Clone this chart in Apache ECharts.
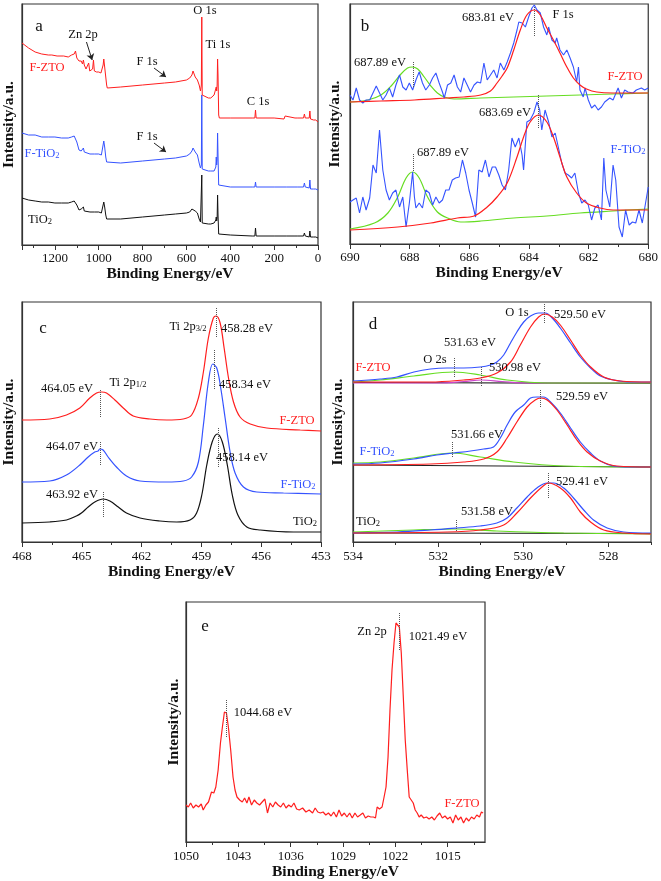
<!DOCTYPE html>
<html><head><meta charset="utf-8">
<script src="https://cdn.jsdelivr.net/npm/echarts@6/dist/echarts.min.js"></script>
<style>html,body{margin:0;padding:0;background:#fff}#c{width:661px;height:881px}</style>
</head><body><div id="c"></div>
<script>
// ---------- DATA ([binding energy eV, intensity a.u.]) ----------
// (a) survey
const surveyFZTO = [[1350,202],[1320,197],[1290,193],[1260,191],[1230,190],[1214,190],[1190,189],[1160,189],[1139,188],[1124,190],[1112,191],[1106,194],[1100,187],[1090,184],[1080,184],[1074,181],[1070,185],[1066,180],[1058,176],[1052,179],[1046,182],[1041,174],[1034,175],[1028,176],[1024,185],[1020,174],[1010,173],[1000,173],[990,172],[984,174],[980,180],[977,186],[973,178],[968,168],[964,160],[961,157],[900,158],[800,160],[700,162],[650,163],[600,165],[585,167],[575,170],[570,174],[566,172],[560,168],[550,165],[542,160],[536,154],[532,160],[530,228],[528,150],[520,148],[500,147],[489,147],[474,150],[470,149],[466,152],[464,158],[462,154],[460,160],[458,186],[456,170],[453,130],[450,127],[400,127],[300,127],[288,127],[285,135],[282,127],[200,127],[155,126],[150,129],[145,127],[105,127],[100,129],[95,127],[66,127],[62,131],[58,127],[40,127],[37,134],[34,126],[20,125],[10,125],[0,123]];
const surveyFTiO2 = [[1350,112],[1320,110],[1290,110],[1260,108],[1230,108],[1200,108],[1170,107],[1139,107],[1124,108],[1112,109],[1106,110],[1100,103],[1090,95],[1080,94],[1074,95],[1070,97],[1066,93],[1058,91],[1040,91],[1020,91],[1000,91],[988,90],[982,92],[977,104],[973,98],[968,88],[964,83],[961,81],[900,82],[800,84],[700,86],[650,87],[600,89],[585,91],[575,94],[570,97],[566,95],[560,93],[550,90],[542,82],[536,77],[532,80],[530,150],[528,76],[520,75],[500,74],[489,74],[474,74],[470,73],[466,78],[464,88],[462,80],[460,85],[458,112],[456,90],[453,60],[450,58],[400,58],[300,58],[288,58],[285,63],[282,58],[200,58],[155,58],[150,60],[145,58],[105,58],[100,59],[95,58],[66,58],[62,62],[58,58],[40,57],[37,65],[34,56],[20,56],[10,56],[0,55]];
const surveyTiO2 = [[1350,47],[1320,45],[1290,44],[1260,43],[1230,43],[1200,42],[1170,42],[1139,42],[1124,43],[1112,44],[1106,46],[1100,40],[1090,35],[1080,36],[1074,37],[1070,38],[1066,34],[1058,32],[1040,33],[1020,33],[1000,33],[988,32],[982,34],[977,43],[973,38],[968,30],[964,26],[961,25],[900,26],[800,28],[700,30],[650,31],[600,32],[585,33],[575,36],[570,38],[566,37],[560,34],[550,32],[542,26],[536,23],[532,25],[530,70],[528,22],[520,22],[500,21],[489,21],[474,22],[470,21],[466,25],[464,28],[462,24],[460,27],[458,50],[456,30],[453,11],[450,10],[400,10],[300,9],[288,9],[285,17],[282,9],[200,9],[155,9],[150,10],[145,9],[105,9],[100,10],[95,9],[66,9],[62,12],[58,9],[40,8],[37,14],[34,8],[20,8],[10,8],[0,7]];
const aTicks = [0, 1350, 200];

// (b) F 1s
const f1sFZTO = [[690.00,149],[689.90,144],[689.79,156],[689.68,144],[689.57,141],[689.46,144],[689.34,144],[689.23,151],[689.12,158],[689.01,151],[688.90,144],[688.79,149],[688.68,156],[688.57,147],[688.46,159],[688.34,169],[688.23,157],[688.12,154],[688.01,161],[687.90,154],[687.79,164],[687.68,172],[687.57,161],[687.46,154],[687.34,159],[687.23,166],[687.12,171],[687.01,161],[686.90,152],[686.84,146],[686.73,159],[686.62,161],[686.51,169],[686.40,157],[686.29,152],[686.18,166],[686.07,159],[685.96,152],[685.84,159],[685.73,162],[685.62,161],[685.51,181],[685.40,164],[685.29,169],[685.18,174],[685.07,166],[684.96,181],[684.84,174],[684.73,182],[684.62,191],[684.51,201],[684.40,214],[684.34,222],[684.23,221],[684.12,217],[684.01,227],[683.90,236],[683.82,239],[683.73,234],[683.62,231],[683.51,217],[683.40,209],[683.34,217],[683.23,204],[683.12,201],[683.07,206],[682.96,194],[682.84,189],[682.73,194],[682.62,186],[682.51,177],[682.40,162],[682.34,177],[682.29,154],[682.18,147],[682.12,156],[682.01,144],[681.90,136],[681.79,139],[681.68,134],[681.57,137],[681.46,142],[681.29,146],[681.18,144],[681.01,156],[680.90,146],[680.79,154],[680.68,152],[680.51,151],[680.40,154],[680.23,156],[680.12,154],[680.00,156]];
const f1sFZTOfitMain = [[690,142],[688.96,143],[687.84,144],[686.73,146],[686.18,147],[685.62,149],[685.29,153],[685.07,161],[684.90,168],[684.73,176],[684.51,194],[684.29,214],[684.07,229],[683.82,234],[683.62,229],[683.40,216],[683.18,204],[682.96,191],[682.73,177],[682.51,166],[682.29,159],[682.07,155],[681.73,152],[681.18,151],[680,151]];
const f1sFZTOfitHigh = [[690,142],[689.4,144],[688.96,149],[688.62,158],[688.29,170],[688.07,176],[687.92,177],[687.73,175],[687.51,167],[687.29,158],[687.07,151],[686.84,147],[686.51,145],[685.62,146],[684.51,147],[683.40,148],[682.29,149],[681.18,150],[680,151]];
const f1sFTiO2 = [[690.00,42],[689.90,44],[689.79,46],[689.68,31],[689.57,47],[689.46,34],[689.34,46],[689.23,79],[689.12,71],[689.01,114],[688.90,74],[688.79,54],[688.68,44],[688.57,51],[688.46,54],[688.34,37],[688.23,47],[688.12,17],[688.01,41],[687.90,72],[687.84,47],[687.79,36],[687.68,41],[687.57,36],[687.46,54],[687.34,51],[687.23,39],[687.12,47],[687.01,41],[686.90,44],[686.79,54],[686.68,54],[686.57,64],[686.46,66],[686.34,67],[686.23,84],[686.12,71],[686.01,54],[685.90,41],[685.79,27],[685.68,74],[685.57,72],[685.46,84],[685.34,67],[685.23,77],[685.12,77],[685.01,69],[684.90,59],[684.79,54],[684.68,74],[684.57,106],[684.46,97],[684.34,106],[684.23,89],[684.18,74],[684.07,122],[683.96,124],[683.84,131],[683.73,142],[683.64,134],[683.57,114],[683.46,134],[683.34,122],[683.23,107],[683.12,111],[683.01,96],[682.90,81],[682.79,71],[682.68,69],[682.57,66],[682.46,71],[682.34,51],[682.23,41],[682.12,44],[682.01,39],[681.90,24],[681.79,36],[681.68,39],[681.57,24],[681.49,86],[681.42,54],[681.29,37],[681.18,79],[681.09,64],[680.98,17],[680.87,7],[680.76,34],[680.64,19],[680.53,22],[680.42,21],[680.31,34],[680.20,21],[680.09,41],[680.00,57]];
const f1sFTiO2fitMain = [[690,14],[688.40,17],[687.29,21],[686.40,26],[685.84,28],[685.40,37],[685.07,47],[684.73,61],[684.40,87],[684.18,107],[683.96,122],[683.68,129],[683.40,122],[683.18,107],[682.96,87],[682.73,67],[682.40,51],[682.07,41],[681.62,36],[681.18,34],[680,34]];
const f1sFTiO2fitHigh = [[690,15],[689.18,21],[688.73,31],[688.40,47],[688.12,66],[687.90,72],[687.68,66],[687.40,47],[687.07,32],[686.73,26],[686.29,22],[685.62,23],[684.51,26],[683.40,28],[682.29,31],[681.18,33],[680,35]];
const bPeaks = [683.81, 687.89, 683.69, 687.89];

// (c) Ti 2p
const ti2pFZTO = [[468,122],[466.61,123],[465.77,127],[465.10,134],[464.60,144],[464.26,149],[464.01,150],[463.76,149],[463.34,142],[462.92,134],[462.42,126],[461.58,123],[460.74,122],[459.91,123],[459.49,127],[459.15,144],[458.90,170],[458.65,204],[458.40,224],[458.26,226],[458.06,219],[457.86,194],[457.64,164],[457.39,140],[457.06,125],[456.55,118],[455.72,114],[454.04,112],[453,111]];
const ti2pFTiO2 = [[468,60],[466.61,61],[465.77,67],[465.10,77],[464.68,85],[464.35,90],[464.18,91],[464.10,93],[463.93,92],[463.68,85],[463.26,75],[462.76,66],[462.08,61],[460.74,60],[459.91,61],[459.49,65],[459.15,80],[458.90,117],[458.65,160],[458.43,178],[458.23,174],[458.03,154],[457.81,124],[457.56,90],[457.31,69],[456.89,55],[456.22,50],[454.88,49],[453,48]];
const ti2pTiO2 = [[468,19],[466.61,20],[465.77,22],[465.27,26],[465.02,29],[464.68,35],[464.35,40],[463.93,43],[463.59,41],[463.17,35],[462.76,29],[462.08,24],[461.08,21],[460.24,20],[459.57,22],[459.24,29],[458.98,47],[458.73,77],[458.46,100],[458.20,108],[457.95,100],[457.70,77],[457.45,47],[457.17,27],[456.72,15],[456.05,12],[454.38,10],[453,10]];
const cPeaks = [458.28, 458.34, 458.14, 464.05, 464.07, 463.92];

// (d) O 1s
const o1sFZTO = [[534,161],[533.36,163],[532.97,165],[532.57,170],[532.18,173],[531.79,174],[531.40,174],[531.01,175],[530.77,177],[530.62,180],[530.46,187],[530.30,199],[530.15,210],[529.99,220],[529.83,226],[529.64,229],[529.48,229],[529.32,224],[529.13,214],[528.89,199],[528.66,185],[528.42,174],[528.19,166],[527.88,162],[527.48,160],[527,160]];
const o1sFZTOfitMain = [[534,160],[532.18,160],[531.40,162],[531.01,164],[530.62,169],[530.30,180],[530.07,197],[529.83,215],[529.64,225],[529.50,228],[529.32,225],[529.13,217],[528.89,202],[528.66,187],[528.42,175],[528.11,165],[527.72,161],[527,160]];
const o1sFZTOfitO2s = [[534,160],[533.36,162],[532.57,166],[531.63,170],[531.01,167],[530.38,162],[529.44,159],[527,159]];
const o1sFZTOfitMid = [[534,159],[532.0,159],[531.4,160.5],[530.98,162],[530.5,160.5],[529.9,159],[527,159]];
const o1sFZTObase = [[534,159.5],[527,158.7]];
const o1sFTiO2 = [[534,78],[533.36,79],[532.57,83],[532.03,87],[531.63,89],[531.24,91],[530.93,93],[530.70,95],[530.54,104],[530.38,117],[530.19,130],[529.99,137],[529.83,144],[529.68,145],[529.52,145],[529.36,140],[529.13,129],[528.89,114],[528.66,100],[528.42,89],[528.19,81],[527.88,76],[527.48,75],[527,75]];
const o1sFTiO2fitMain = [[534,77],[532.18,78],[531.40,80],[530.93,83],[530.62,90],[530.38,104],[530.15,120],[529.91,135],[529.72,142],[529.59,144],[529.44,142],[529.21,132],[528.97,117],[528.74,102],[528.50,90],[528.19,81],[527.80,76],[527,75]];
const o1sFTiO2fitO2s = [[534,79],[533.36,80],[532.57,84],[531.66,89],[531.01,85],[530.23,80],[529.05,76],[527,75]];
const o1sFTiO2base = [[534,77],[527,75]];
const o1sTiO2 = [[534,9],[532.97,10],[532.18,12],[531.56,14],[531.01,16],[530.62,19],[530.38,24],[530.15,34],[529.91,45],[529.68,54],[529.44,59],[529.29,59],[529.05,54],[528.82,44],[528.58,32],[528.35,22],[528.03,14],[527.64,10],[527,9]];
const o1sTiO2fitMain = [[534,9],[531.79,10],[531.01,12],[530.46,17],[530.15,29],[529.83,44],[529.56,55],[529.41,59],[529.13,54],[528.89,44],[528.66,30],[528.42,20],[528.11,12],[527.64,9],[527,8]];
const o1sTiO2fitO2s = [[534,10],[532.57,12],[531.58,13],[530.62,11],[529.05,9],[527,8]];
const o1sTiO2base = [[534,9],[527,8.5]];
const dPeaks = [529.50, 531.63, 530.98, 529.59, 531.66, 529.41, 531.58];
const dTickLabels = [534, 532, 530, 528];
const dMinorTicks = [533, 531, 529, 527];

// (e) Zn 2p
const zn2pFZTO = [[1050.00,37],[1049.69,35],[1049.38,39],[1049.03,34],[1048.67,37],[1048.32,35],[1047.96,38],[1047.70,32],[1047.34,37],[1046.99,40],[1046.59,50],[1046.28,49],[1046.01,55],[1045.70,72],[1045.39,99],[1045.13,115],[1044.86,130],[1044.68,132],[1044.59,129],[1044.33,115],[1044.02,92],[1043.71,65],[1043.44,52],[1043.18,45],[1042.82,42],[1042.47,40],[1042.16,44],[1041.85,39],[1041.58,45],[1041.23,37],[1040.87,42],[1040.52,39],[1040.16,37],[1039.81,40],[1039.45,43],[1039.10,29],[1038.75,39],[1038.39,35],[1038.04,40],[1037.68,37],[1037.33,35],[1036.97,39],[1036.62,34],[1036.26,37],[1035.91,35],[1035.56,39],[1035.20,33],[1034.85,32],[1034.40,34],[1033.96,30],[1033.52,32],[1033.07,29],[1032.72,34],[1032.37,30],[1032.01,29],[1031.66,30],[1031.30,27],[1030.95,29],[1030.59,26],[1030.24,30],[1029.88,25],[1029.53,32],[1029.18,26],[1028.82,29],[1028.47,25],[1028.11,29],[1027.76,24],[1027.40,29],[1027.05,25],[1026.69,27],[1026.34,29],[1025.99,24],[1025.63,26],[1025.28,25],[1024.92,25],[1024.65,24],[1024.43,35],[1024.12,33],[1023.77,35],[1023.50,45],[1023.24,55],[1022.97,85],[1022.71,132],[1022.44,172],[1022.17,199],[1021.91,219],[1021.69,221],[1021.46,215],[1021.20,189],[1020.93,145],[1020.67,102],[1020.40,72],[1020.14,45],[1019.87,42],[1019.60,39],[1019.34,32],[1019.07,29],[1018.81,25],[1018.54,27],[1018.19,24],[1017.83,25],[1017.48,23],[1017.12,25],[1016.77,22],[1016.42,26],[1016.06,29],[1015.71,24],[1015.35,26],[1015.00,23],[1014.64,25],[1014.29,19],[1013.93,27],[1013.58,22],[1013.22,25],[1012.87,19],[1012.51,24],[1012.16,21],[1011.81,25],[1011.45,23],[1011.10,27],[1010.74,25],[1010.48,30],[1010.26,29]];
const ePeaks = [1021.49, 1044.68];
const eTickLabels = [1050, 1043, 1036, 1029, 1022, 1015];
const eMinorTicks = [1046.5, 1039.5, 1032.5, 1025.5, 1018.5, 1011.5];

// ---------- STYLE ----------
const FONT = 'Liberation Serif';
const RED = '#ff1e1e', BLUE = '#3553ff', GREEN = '#66dd22', BLACK = '#111', MAG = '#cc44cc';
const AX = '#333';
const plain = v => String(v);

const grids = [
  {left:20, top:4, width:298, height:241},
  {left:350, top:4, width:300, height:240},
  {left:22, top:302, width:299, height:240},
  {left:353, top:302, width:298, height:240},
  {left:186, top:602, width:299, height:240}
].map(g => Object.assign({show:true, borderColor:AX, borderWidth:1.2, backgroundColor:'transparent'}, g));

function lbl(o) { return Object.assign({color:BLACK, fontFamily:FONT, fontSize:13, margin:7, formatter:plain}, o || {}); }
function xAx(gi, min, max, o) {
  return Object.assign({
    type:'value', gridIndex:gi, min, max, inverse:true, position:'bottom',
    axisLine:{show:true, onZero:false, lineStyle:{color:AX, width:1.2}},
    axisTick:{show:true, inside:false, length:5, lineStyle:{color:AX}},
    minorTick:{show:true, splitNumber:2, length:3, lineStyle:{color:AX}},
    axisLabel:lbl(),
    splitLine:{show:false}, minorSplitLine:{show:false},
    name:'Binding Energy/eV', nameLocation:'middle', nameGap:20,
    nameTextStyle:{fontFamily:FONT, fontWeight:'bold', fontSize:15.5, color:BLACK}
  }, o || {});
}
function minorAx(gi, min, max, vals) {
  return {type:'value', gridIndex:gi, min, max, inverse:true, position:'bottom',
    axisLine:{show:false, onZero:false}, axisLabel:{show:false}, splitLine:{show:false},
    axisTick:{show:true, inside:false, length:3, customValues:vals, lineStyle:{color:AX}}};
}
function yAx(gi, max, gap) {
  return {type:'value', gridIndex:gi, min:0, max,
    axisLine:{show:true, onZero:false, lineStyle:{color:AX, width:1.2}},
    axisTick:{show:false}, axisLabel:{show:false}, splitLine:{show:false},
    name:'Intensity/a.u.', nameLocation:'middle', nameGap:gap,
    nameTextStyle:{fontFamily:FONT, fontWeight:'bold', fontSize:15.5, color:BLACK}};
}

const xAxis = [
  xAx(0, aTicks[0], aTicks[1], {interval:aTicks[2], axisLabel:lbl({showMaxLabel:false})}),
  xAx(1, 680, 690, {interval:2}),
  xAx(2, 453, 468, {interval:3, axisLabel:lbl({margin:8}), nameGap:22}),
  xAx(3, 527, 534, {minorTick:{show:false}, axisLabel:lbl({margin:8, customValues:dTickLabels}), axisTick:{show:true, inside:false, length:5, customValues:dTickLabels, lineStyle:{color:AX}}, nameGap:22}),
  xAx(4, 1010, 1050, {minorTick:{show:false}, axisLabel:lbl({margin:8, customValues:eTickLabels}), axisTick:{show:true, inside:false, length:5, customValues:eTickLabels, lineStyle:{color:AX}}, nameGap:22}),
  minorAx(3, 527, 534, dMinorTicks),
  minorAx(4, 1010, 1050, eMinorTicks)
];
const yAxis = [yAx(0, 241, 5), yAx(1, 240, 7), yAx(2, 240, 5), yAx(3, 240, 7), yAx(4, 240, 4)];

function line(gi, data, color, o) {
  return Object.assign({type:'line', xAxisIndex:gi, yAxisIndex:gi, data, symbol:'none', showSymbol:false,
    lineStyle:{color, width:1.2}, itemStyle:{color}, silent:true, animation:false}, o || {});
}
function vmarks(list) {
  return {symbol:['none','none'], silent:true, animation:false, label:{show:false},
    lineStyle:{type:'dotted', color:'#555', width:1},
    data:list.map(([x, y1, y2]) => [{coord:[x, y1]}, {coord:[x, y2]}])};
}
function arrows(list) {
  return {symbol:['none','arrow'], symbolSize:6, silent:true, animation:false, label:{show:false},
    lineStyle:{type:'solid', color:'#222', width:1},
    data:list.map(([x1, y1, x2, y2]) => [{coord:[x1, y1]}, {coord:[x2, y2]}])};
}
const smooth = {smooth:0.35};

const series = [
  // (a)
  line(0, surveyTiO2, BLACK, {lineStyle:{color:BLACK, width:1}}),
  line(0, surveyFTiO2, BLUE, {lineStyle:{color:BLUE, width:1}}),
  line(0, surveyFZTO, RED, {lineStyle:{color:RED, width:1},
    markLine: arrows([[1056,203,1030,185],[748,177,693,168],[748,102,693,93]])}),
  // (b)
  line(1, f1sFZTOfitHigh, GREEN, smooth),
  line(1, f1sFTiO2fitHigh, GREEN, smooth),
  line(1, f1sFZTO, BLUE, {lineStyle:{color:BLUE, width:1.1}}),
  line(1, f1sFTiO2, BLUE, {lineStyle:{color:BLUE, width:1.1}}),
  line(1, f1sFZTOfitMain, RED, Object.assign({markLine: vmarks([[bPeaks[0],237,207],[bPeaks[1],182,156],[bPeaks[2],149,116],[bPeaks[3],90,72]])}, smooth)),
  line(1, f1sFTiO2fitMain, RED, smooth),
  // (c)
  line(2, ti2pTiO2, BLACK, smooth),
  line(2, ti2pFTiO2, BLUE, smooth),
  line(2, ti2pFZTO, RED, Object.assign({markLine: vmarks([[cPeaks[0],234,205],[cPeaks[1],192,152],[cPeaks[2],114,74],[cPeaks[3],152,124],[cPeaks[4],100,77],[cPeaks[5],50,24]])}, smooth)),
  // (d)
  line(3, o1sFZTObase, '#222'), line(3, o1sFTiO2base, '#222'), line(3, o1sTiO2base, '#222'),
  line(3, o1sFZTOfitMid, MAG, smooth),
  line(3, o1sFZTOfitO2s, GREEN, smooth), line(3, o1sFTiO2fitO2s, GREEN, smooth), line(3, o1sTiO2fitO2s, GREEN, smooth),
  line(3, o1sFZTO, BLUE, smooth), line(3, o1sFTiO2, BLUE, smooth), line(3, o1sTiO2, BLUE, smooth),
  line(3, o1sFZTOfitMain, RED, Object.assign({markLine: vmarks([[dPeaks[0],238,218],[dPeaks[1],184,165],[dPeaks[2],175,155],[dPeaks[3],152,134],[dPeaks[4],100,84],[dPeaks[5],69,44],[dPeaks[6],22,10]])}, smooth)),
  line(3, o1sFTiO2fitMain, RED, smooth), line(3, o1sTiO2fitMain, RED, smooth),
  // (e)
  line(4, zn2pFZTO, RED, {markLine: vmarks([[ePeaks[0],229,192],[ePeaks[1],142,105]])})
];

// ---------- ANNOTATIONS ----------
function T(text, x, y, color, size) {
  color = color || BLACK; size = size || 12.5;
  return {type:'text', x, y, z:100, silent:true, style:{text, fill:color,
    font: size + 'px "' + FONT + '"', align:'center', verticalAlign:'middle',
    rich:{s:{fontSize:size*0.68, fontFamily:FONT, fill:color, verticalAlign:'bottom', lineHeight:5}}}};
}
const graphic = [
  T('a',39,27,BLACK,17), T('Zn 2p',83,35), T('O 1s',205,11), T('Ti 1s',218,45), T('F 1s',147,62), T('C 1s',258,102),
  T('F-ZTO',47,68,RED), T('F 1s',147,137), T('F-TiO{s|2}',42,154,BLUE), T('TiO{s|2}',40,220),
  T('b',365,27,BLACK,17), T('683.81 eV',488,18), T('F 1s',563,15), T('687.89 eV',380,63), T('F-ZTO',625,77,RED),
  T('683.69 eV',505,113), T('687.89 eV',443,153), T('F-TiO{s|2}',628,150,BLUE),
  T('c',43,329,BLACK,17), T('Ti 2p{s|3/2}',188,327), T('458.28 eV',247,329), T('464.05 eV',67,389), T('Ti 2p{s|1/2}',128,383),
  T('458.34 eV',245,385), T('F-ZTO',297,421,RED), T('464.07 eV',72,447), T('458.14 eV',242,458), T('F-TiO{s|2}',298,485,BLUE),
  T('463.92 eV',72,495), T('TiO{s|2}',305,522),
  T('d',373,325,BLACK,17), T('O 1s',517,313), T('529.50 eV',580,315), T('531.63 eV',470,343), T('O 2s',435,360),
  T('530.98 eV',515,368), T('F-ZTO',373,368,RED), T('529.59 eV',582,397), T('531.66 eV',477,435), T('F-TiO{s|2}',377,452,BLUE),
  T('529.41 eV',582,482), T('531.58 eV',487,512), T('TiO{s|2}',368,522),
  T('e',205,627,BLACK,17), T('Zn 2p',372,632), T('1021.49 eV',438,637), T('1044.68 eV',263,713), T('F-ZTO',462,804,RED)
];

const chart = echarts.init(document.getElementById('c'), null, {renderer:'canvas'});
chart.setOption({animation:false, backgroundColor:'#fff', grid:grids, xAxis, yAxis, series, graphic});
</script></body></html>
